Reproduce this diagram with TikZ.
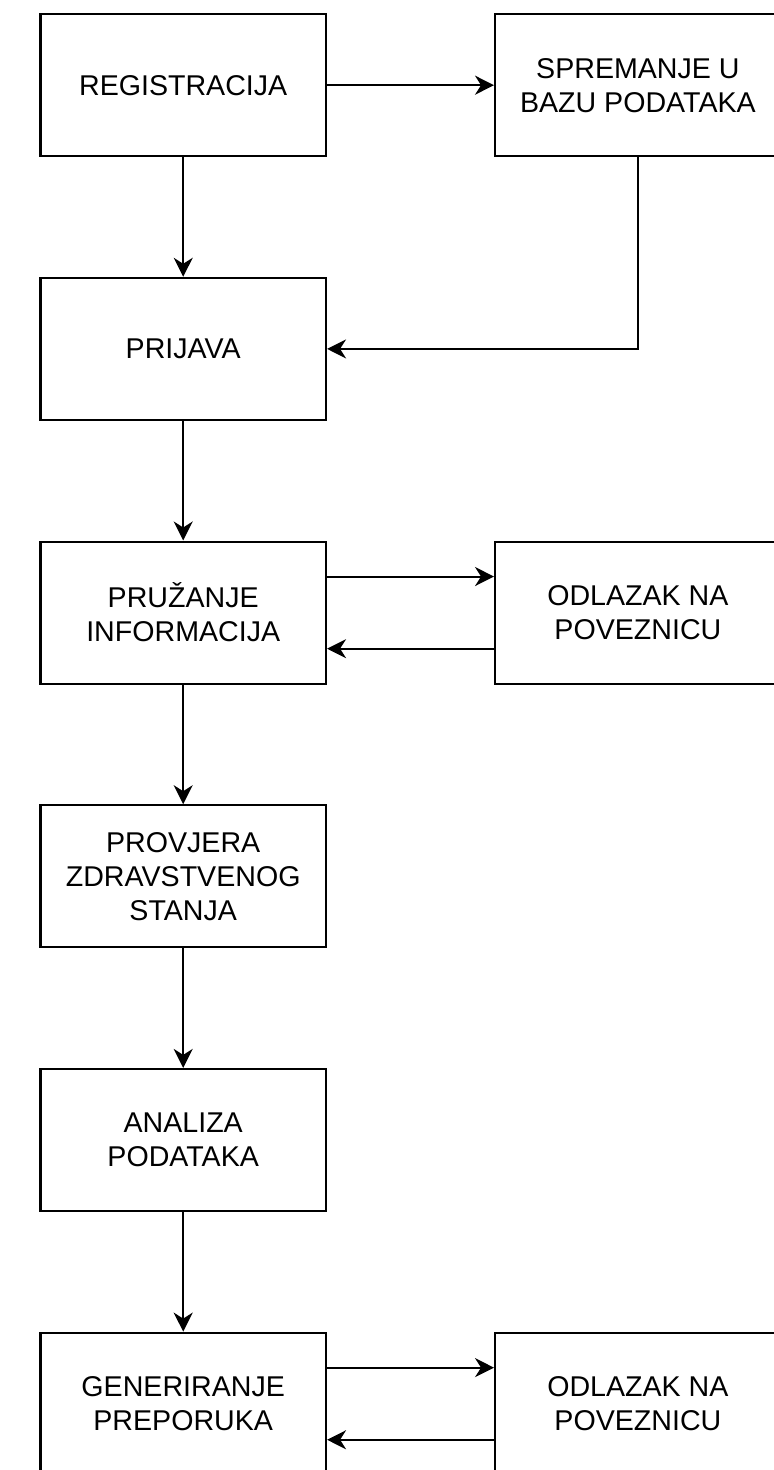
\documentclass[tikz,border=0pt]{standalone}
\usepackage{fontspec}
\setmainfont{Liberation Sans}
\usetikzlibrary{positioning, arrows.meta, calc}
\tikzstyle{stepbox} =[draw, line width=1.1pt, minimum width=142.75pt, minimum height=71pt, align=center, font=\fontsize{14.3}{17}\selectfont]
\tikzstyle{flow} =[-{Stealth[length=9.5pt, width=9.5pt, inset=3pt]}, line width=1pt, black]

\begin{document}
\begin{tikzpicture}
\useasboundingbox (-91.6pt,42.6pt) rectangle (295.4pt,-692.4pt);

\node (reg) [stepbox] {REGISTRACIJA};
\node (store) [stepbox, right=83.5pt of reg] {SPREMANJE U\\BAZU PODATAKA};

\node (login) [stepbox, below=59.75pt of reg] {PRIJAVA};

\node (info) [stepbox, below=59.75pt of login] {PRUŽANJE\\INFORMACIJA};
\node (linkA) [stepbox, right=83.5pt of info] {ODLAZAK NA\\POVEZNICU};

\node (health) [stepbox, below=59.75pt of info] {PROVJERA\\ZDRAVSTVENOG\\STANJA};

\node (analysis) [stepbox, below=59.75pt of health] {ANALIZA\\PODATAKA};

\node (recommend) [stepbox, below=59.75pt of analysis] {GENERIRANJE\\PREPORUKA};
\node (linkB) [stepbox, right=83.5pt of recommend] {ODLAZAK NA\\POVEZNICU};

\draw[flow]
	(reg) edge (store);

\draw[flow]
	(reg) edge (login);

\draw[flow]
	(store.south) |- (login.east);

\draw[flow]
	(login) edge (info);

%side trips
\draw[flow]
	($(info.north east)!0.25!(info.south east)$) -- ($(linkA.north west)!0.25!(linkA.south west)$);

\draw[flow]
	($(linkA.north west)!0.75!(linkA.south west)$) -- ($(info.north east)!0.75!(info.south east)$);

\draw[flow]
	(info) edge (health);

\draw[flow]
	(health) edge (analysis);

\draw[flow]
	(analysis) edge (recommend);

\draw[flow]
	($(recommend.north east)!0.25!(recommend.south east)$) -- ($(linkB.north west)!0.25!(linkB.south west)$);

\draw[flow]
	($(linkB.north west)!0.75!(linkB.south west)$) -- ($(recommend.north east)!0.75!(recommend.south east)$);
\end{tikzpicture}
\end{document}
